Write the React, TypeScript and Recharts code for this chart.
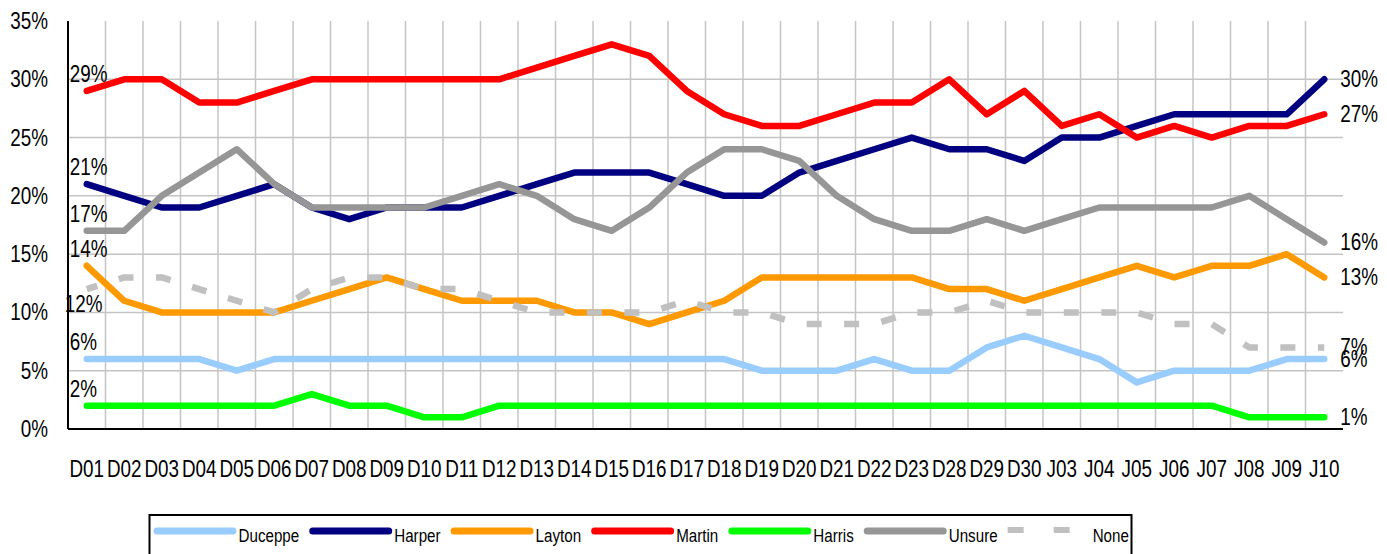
import { LineChart, Line, XAxis, YAxis, CartesianGrid, LabelList } from "recharts";

const dates = [
  "D01", "D02", "D03", "D04", "D05", "D06", "D07", "D08", "D09", "D10", "D11", "D12",
  "D13", "D14", "D15", "D16", "D17", "D18", "D19", "D20", "D21", "D22", "D23", "D28",
  "D29", "D30", "J03", "J04", "J05", "J06", "J07", "J08", "J09", "J10",
];

// poll shares, percent
const duceppe = [6, 6, 6, 6, 5, 6, 6, 6, 6, 6, 6, 6, 6, 6, 6, 6, 6, 6, 5, 5, 5, 6, 5, 5, 7, 8, 7, 6, 4, 5, 5, 5, 6, 6];
const harper = [21, 20, 19, 19, 20, 21, 19, 18, 19, 19, 19, 20, 21, 22, 22, 22, 21, 20, 20, 22, 23, 24, 25, 24, 24, 23, 25, 25, 26, 27, 27, 27, 27, 30];
const layton = [14, 11, 10, 10, 10, 10, 11, 12, 13, 12, 11, 11, 11, 10, 10, 9, 10, 11, 13, 13, 13, 13, 13, 12, 12, 11, 12, 13, 14, 13, 14, 14, 15, 13];
const martin = [29, 30, 30, 28, 28, 29, 30, 30, 30, 30, 30, 30, 31, 32, 33, 32, 29, 27, 26, 26, 27, 28, 28, 30, 27, 29, 26, 27, 25, 26, 25, 26, 26, 27];
const harris = [2, 2, 2, 2, 2, 2, 3, 2, 2, 1, 1, 2, 2, 2, 2, 2, 2, 2, 2, 2, 2, 2, 2, 2, 2, 2, 2, 2, 2, 2, 2, 1, 1, 1];
const unsure = [17, 17, 20, 22, 24, 21, 19, 19, 19, 19, 20, 21, 20, 18, 17, 19, 22, 24, 24, 23, 20, 18, 17, 17, 18, 17, 18, 19, 19, 19, 19, 20, 18, 16];
const none = [12, 13, 13, 12, 11, 10, 12, 13, 13, 12, 12, 11, 10, 10, 10, 10, 11, 10, 10, 9, 9, 9, 10, 10, 11, 10, 10, 10, 10, 9, 9, 7, 7, 7];

const yTicks = [0, 5, 10, 15, 20, 25, 30, 35];
const gridValues = [5, 10, 15, 20, 25, 30];

const series = [
  { key: "duceppe", name: "Duceppe", values: duceppe, color: "#99ccff" },
  { key: "harper", name: "Harper", values: harper, color: "#000080" },
  { key: "layton", name: "Layton", values: layton, color: "#ff9900" },
  { key: "martin", name: "Martin", values: martin, color: "#ff0000" },
  { key: "harris", name: "Harris", values: harris, color: "#00ff00" },
  { key: "unsure", name: "Unsure", values: unsure, color: "#969696" },
  { key: "none", name: "None", values: none, color: "#c0c0c0", dashed: true },
];

const rows = dates.map((date, i) => {
  const row: Record<string, string | number> = { date };
  series.forEach((s) => (row[s.key] = s.values[i]));
  return row;
});

const W = 1387;
const H = 554;
const FONT = "'Liberation Sans', Arial, sans-serif";
const SQUEEZE = 0.82; // narrow look of the original font

function CondText({ x, y, size = 23, anchor = "start", children }: any) {
  return (
    <text
      transform={`translate(${x},${y}) scale(${SQUEEZE},1)`}
      textAnchor={anchor}
      fontSize={size}
      fontFamily={FONT}
      fill="#000"
    >
      {children}
    </text>
  );
}

const XTick = ({ x, y, payload }: any) => (
  <CondText x={x} y={y + 40} anchor="middle">{payload.value}</CondText>
);

const YTick = ({ x, y, payload }: any) => (
  <CondText x={x - 12} y={y + 8} anchor="end">{`${payload.value}%`}</CondText>
);

// first and last value written beside the line
const edgeLabel = (below: boolean) => (props: any) => {
  const { index, value } = props;
  if (index !== 0 && index !== dates.length - 1) return null;
  const px = props.x ?? props.viewBox?.x;
  const py = props.y ?? props.viewBox?.y;
  if (index === 0) {
    return below
      ? <CondText x={px - 22} y={py + 23}>{`${value}%`}</CondText>
      : <CondText x={px - 17} y={py - 9}>{`${value}%`}</CondText>;
  }
  return <CondText x={px + 16} y={py + 8}>{`${value}%`}</CondText>;
};

function textWidth(text: string, size: number) {
  const ctx = document.createElement("canvas").getContext("2d");
  if (!ctx) return text.length * size * 0.5;
  ctx.font = `${size}px ${FONT}`;
  return ctx.measureText(text).width * SQUEEZE;
}

function LegendBox() {
  const size = 18.5;
  let cursor = 5.5;
  const items = series.map((s) => {
    const x = cursor;
    const tw = textWidth(s.name, size);
    cursor += 83 + 2 + tw + 10;
    return { s, x };
  });
  return (
    <svg width={990} height={50} style={{ position: "absolute", left: 148, top: 514 }}>
      <rect x={1.5} y={1} width={982} height={60} fill="#fff" stroke="#000" strokeWidth={2} />
      {items.map(({ s, x }) => (
        <g key={s.key}>
          {s.dashed ? (
            <line x1={x} y1={16} x2={x + 83} y2={16} stroke={s.color} strokeWidth={6} strokeDasharray="16 30" />
          ) : (
            <line x1={x + 3.5} y1={17} x2={x + 79.5} y2={17} stroke={s.color} strokeWidth={7} strokeLinecap="round" />
          )}
          <CondText x={x + 85} y={27.5} size={size}>{s.name}</CondText>
        </g>
      ))}
    </svg>
  );
}

export default function App() {
  return (
    <div style={{ position: "absolute", left: 0, top: 0, width: W, height: H, background: "#fff", overflow: "hidden" }}>
      <LineChart width={W} height={H} data={rows} margin={{ top: 21, right: 44, bottom: 65, left: 0 }}>
        <CartesianGrid
          stroke="#c4c4c4"
          strokeWidth={1.5}
          horizontalValues={gridValues}
          verticalCoordinatesGenerator={({ offset }: any) =>
            dates.slice(1).map((_, k) => offset.left + ((k + 1) * offset.width) / dates.length)
          }
        />
        <XAxis
          dataKey="date"
          interval={0}
          height={60}
          padding={{ left: 18.75, right: 18.75 }}
          axisLine={{ stroke: "#000", strokeWidth: 2 }}
          tickLine={false}
          tick={<XTick />}
        />
        <YAxis
          width={68}
          domain={[0, 35]}
          ticks={yTicks}
          allowDataOverflow
          axisLine={{ stroke: "#000", strokeWidth: 2 }}
          tickLine={false}
          tick={<YTick />}
        />
        {series.map((s) => (
          <Line
            key={s.key}
            dataKey={s.key}
            name={s.name}
            type="linear"
            stroke={s.color}
            strokeWidth={s.dashed ? 6.5 : 6.5}
            strokeLinecap={s.dashed ? "butt" : "round"}
            strokeLinejoin="round"
            strokeDasharray={s.dashed ? "15 22.5" : undefined}
            strokeDashoffset={s.dashed ? 4 : undefined}
            dot={false}
            activeDot={false}
            isAnimationActive={false}
          >
            <LabelList dataKey={s.key} content={edgeLabel(!!s.dashed)} />
          </Line>
        ))}
      </LineChart>
      <LegendBox />
    </div>
  );
}
